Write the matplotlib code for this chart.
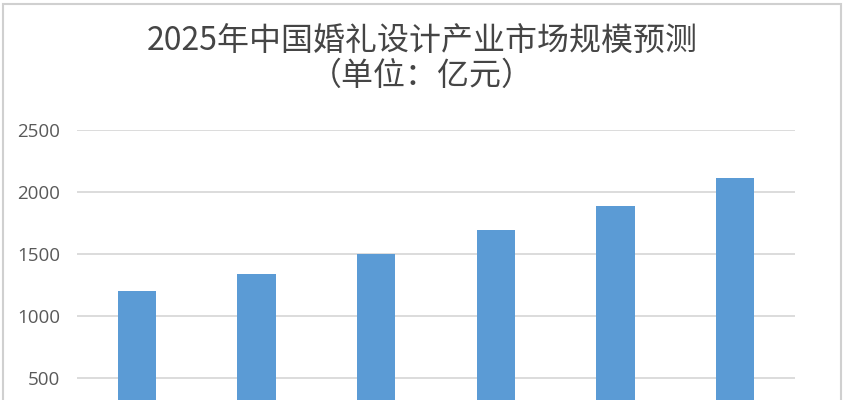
import matplotlib
matplotlib.use("Agg")
import matplotlib.pyplot as plt
from matplotlib.patches import Rectangle

plt.rcParams['font.family'] = ['Noto Sans CJK SC', 'DejaVu Sans']

categories = ["2020", "2021", "2022", "2023", "2024", "2025"]
values = [1200, 1340, 1500, 1690, 1890, 2110]
yticks = [500, 1000, 1500, 2000, 2500]
title_line1 = "2025年中国婚礼设计产业市场规模预测"
title_line2 = "（单位：亿元）"

W, H = 845, 400
fig = plt.figure(figsize=(W / 100, H / 100), dpi=100)
fig.patch.set_facecolor("white")

# chart border
fig.add_artist(Rectangle((3.5 / W, -0.1), (841 - 3.5) / W, (H - 3.5) / H + 0.1,
                         transform=fig.transFigure, fill=False,
                         edgecolor="#d0d0d0", linewidth=1.5))

# axes: 2500 at y=130 px, 0 at y=440 px (below the visible area)
left, right = 77, 795
top_px, zero_px = 130, 440
ax = fig.add_axes([left / W, 1 - zero_px / H, (right - left) / W, (zero_px - top_px) / H])
x = list(range(len(categories)))
ax.bar(x, values, width=0.32, color="#5b9bd5", zorder=3)
ax.set_xlim(-0.5, len(categories) - 0.5)
ax.set_ylim(0, 2500)
ax.set_yticks(yticks)
ax.set_yticklabels([str(v) for v in yticks], fontsize=13.5, color="#595959",
                   family=["Open Sans", "DejaVu Sans"])
ax.set_xticks([])
ax.tick_params(axis="y", length=0, pad=12)
ax.grid(axis="y", color="#d9d9d9", linewidth=1.3, zorder=0)
for s in ax.spines.values():
    s.set_visible(False)
ax.set_facecolor("none")

fig.text(422 / W, 1 - 42 / H, title_line1, ha="center", va="center",
         fontsize=23, color="#454545", fontweight="light")
fig.text(422 / W, 1 - 76 / H, title_line2, ha="center", va="center",
         fontsize=23, color="#454545", fontweight="light")

fig.savefig("out.png", dpi=100)
